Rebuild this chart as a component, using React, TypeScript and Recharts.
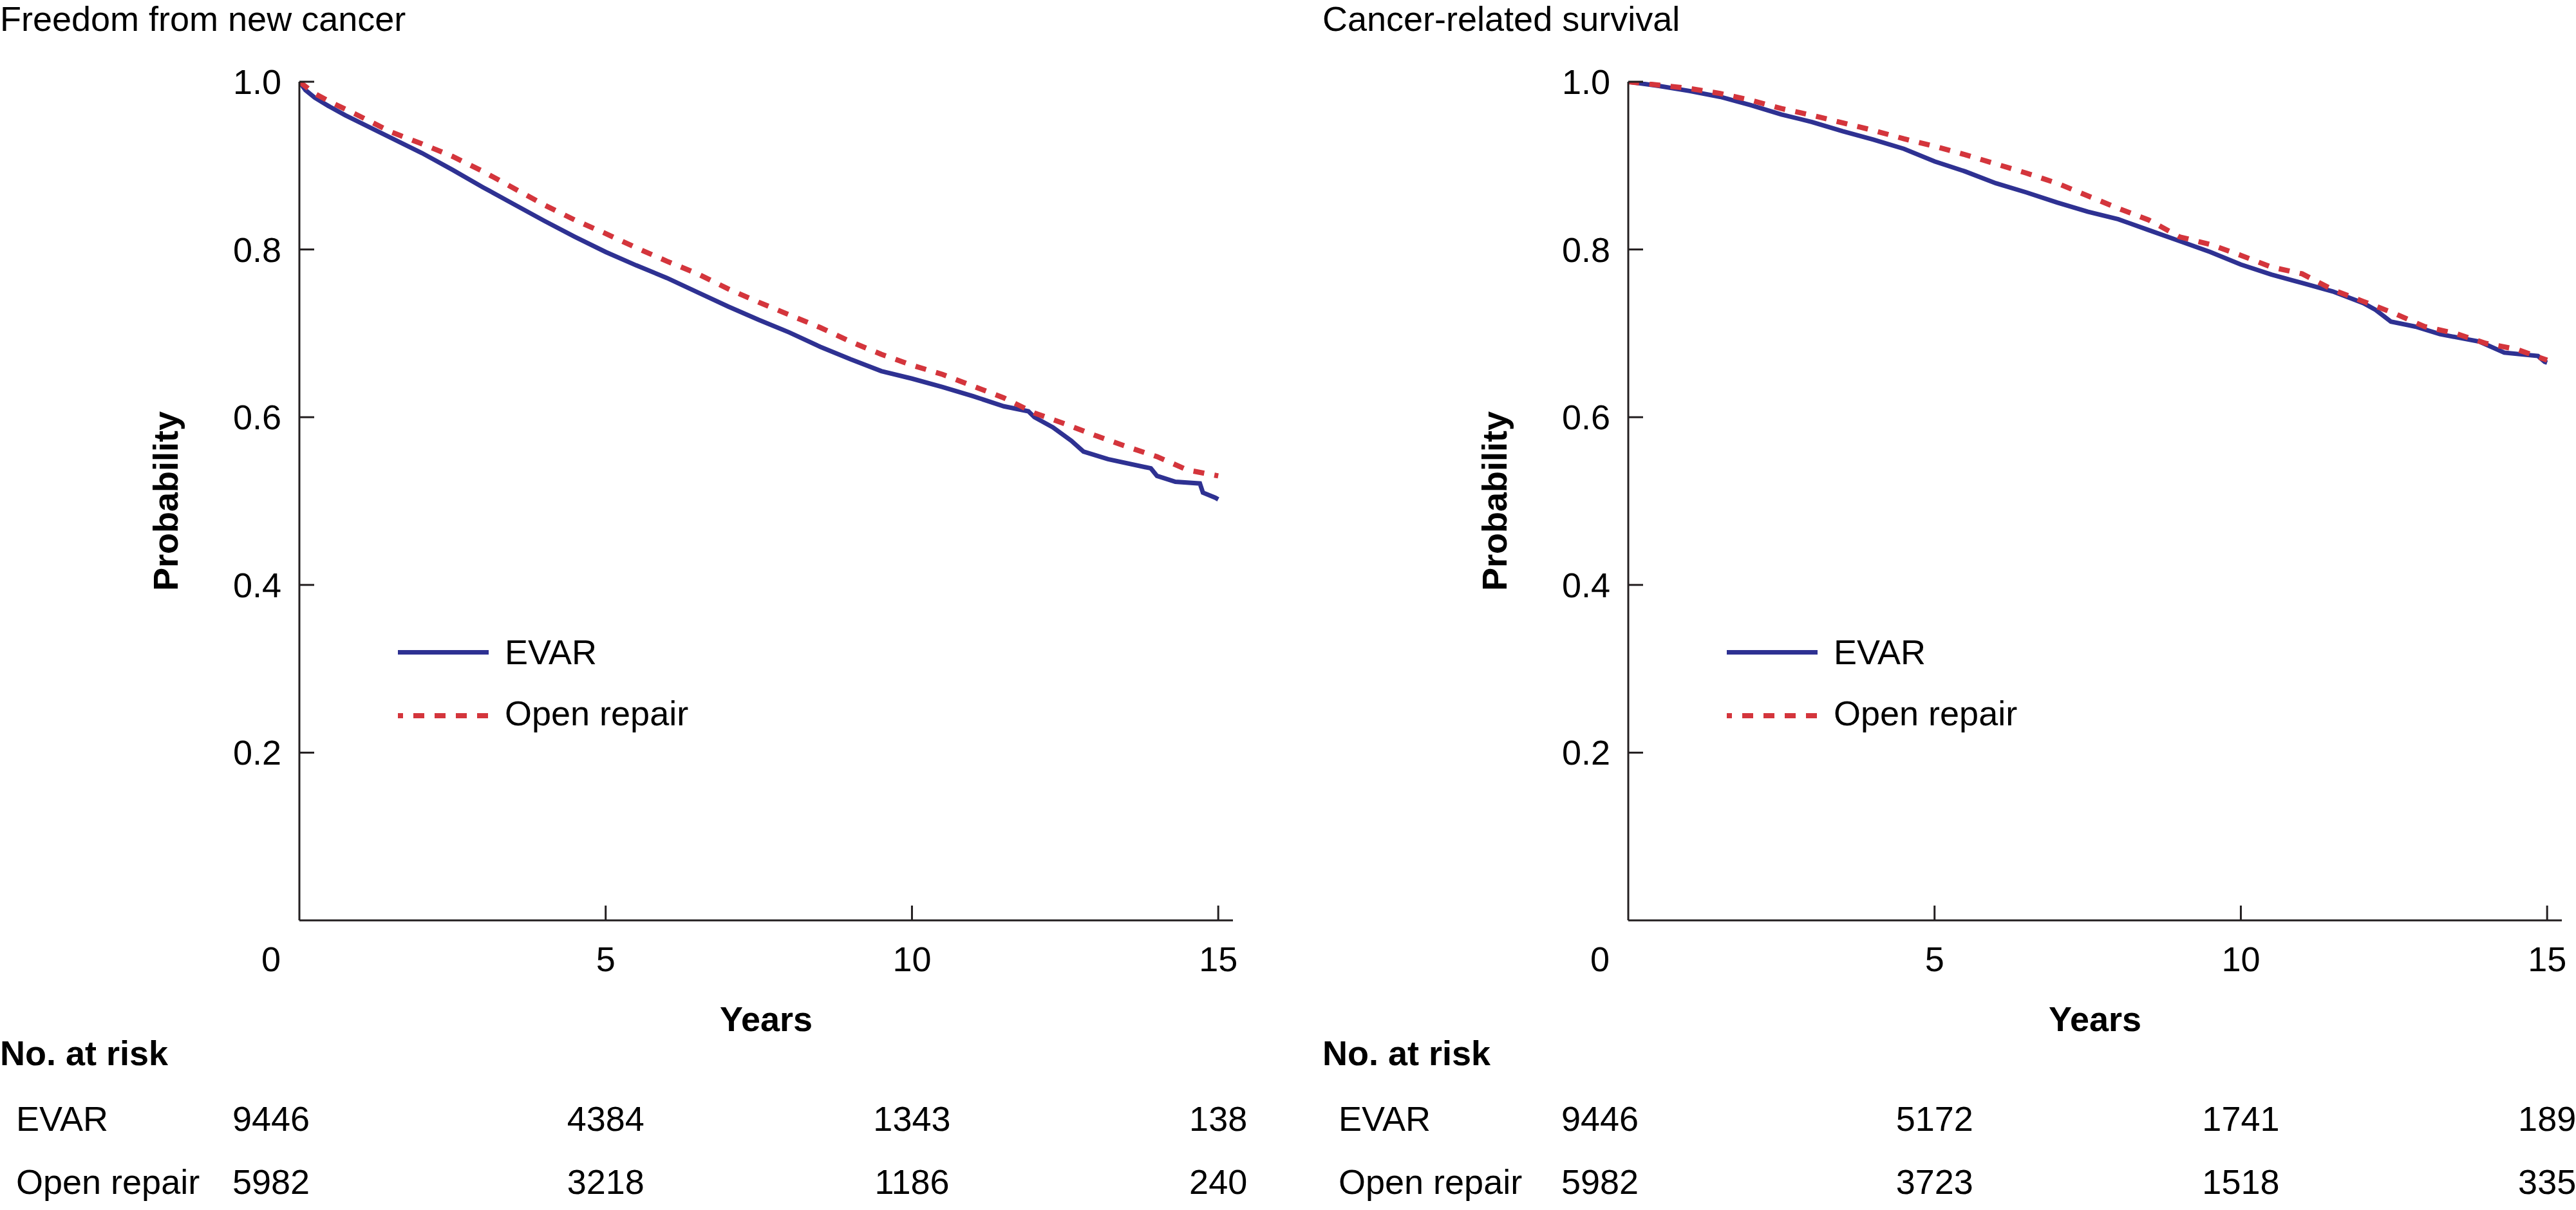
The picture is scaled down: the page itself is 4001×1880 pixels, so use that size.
import React from 'react';
import { LineChart, Line, XAxis, YAxis, Legend, Customized } from 'recharts';

const FONT = "'Liberation Sans', Arial, Helvetica, sans-serif";
const AXIS_COLOR = '#231f20';
const EVAR_COLOR = '#2e3192';
const OPEN_COLOR = '#d4353c';
const CHART_H = 1880;
const PLOT_TOP = 127;
const PLOT_BOTTOM = 1430;

// ticks
const xTicks = [0, 5, 10, 15];
const yTicks = [0.2, 0.4, 0.6, 0.8, 1.0];
const groupNames = ['EVAR', 'Open repair'];

// Panel A: Freedom from new cancer
const newCancerEvarYears = [0, 0.1, 0.25, 0.5, 0.75, 1.0, 1.5, 2.0, 2.5, 3.0, 3.5, 4.0, 4.5, 5.0, 5.5, 6.0, 6.5, 7.0, 7.5, 8.0, 8.5, 9.0, 9.5, 10.0, 10.5, 11.0, 11.5, 11.9, 12.0, 12.3, 12.6, 12.8, 13.2, 13.9, 14.0, 14.3, 14.7, 14.75, 14.95, 15.0];
const newCancerEvarProb = [1, 0.99, 0.981, 0.97, 0.96, 0.951, 0.933, 0.915, 0.895, 0.874, 0.854, 0.834, 0.815, 0.797, 0.781, 0.766, 0.749, 0.732, 0.716, 0.701, 0.684, 0.669, 0.655, 0.646, 0.636, 0.625, 0.613, 0.607, 0.6, 0.588, 0.572, 0.559, 0.55, 0.539, 0.53, 0.523, 0.521, 0.51, 0.504, 0.502];
const newCancerOpenYears = [0, 0.25, 0.5, 0.9, 1.2, 1.5, 2.0, 2.5, 3.0, 3.5, 4.0, 4.5, 5.0, 5.5, 6.0, 6.5, 7.0, 7.5, 8.0, 8.5, 9.0, 9.5, 10.0, 10.5, 11.0, 11.5, 12.0, 12.5, 13.0, 13.5, 14.0, 14.5, 15.0];
const newCancerOpenProb = [1, 0.986, 0.976, 0.962, 0.951, 0.94, 0.926, 0.911, 0.893, 0.873, 0.853, 0.835, 0.819, 0.802, 0.786, 0.771, 0.753, 0.737, 0.722, 0.707, 0.69, 0.675, 0.662, 0.651, 0.637, 0.623, 0.605, 0.592, 0.578, 0.565, 0.553, 0.537, 0.53];
const newCancerRiskEvar = [9446, 4384, 1343, 138];
const newCancerRiskOpen = [5982, 3218, 1186, 240];

// Panel B: Cancer-related survival
const survEvarYears = [0, 0.5, 1, 1.5, 2, 2.5, 3, 3.5, 4, 4.5, 5, 5.5, 6, 6.5, 7, 7.5, 8, 8.5, 9, 9.5, 10, 10.5, 11, 11.5, 12, 12.2, 12.45, 12.85, 13.25, 13.9, 14.3, 14.85, 14.96, 15];
const survEvarProb = [1, 0.995, 0.989, 0.982, 0.972, 0.961, 0.952, 0.941, 0.931, 0.92, 0.905, 0.893, 0.879, 0.868, 0.856, 0.845, 0.836, 0.823, 0.81, 0.797, 0.782, 0.77, 0.76, 0.75, 0.736, 0.728, 0.714, 0.708, 0.699, 0.69, 0.677, 0.673, 0.666, 0.665];
const survOpenYears = [0, 0.5, 1, 1.5, 2, 2.5, 3, 3.5, 4, 4.5, 5, 5.5, 6, 6.5, 7, 7.5, 8, 8.5, 9, 9.5, 10, 10.5, 11, 11.5, 12, 12.5, 13, 13.5, 14, 14.5, 15];
const survOpenProb = [1, 0.996, 0.992, 0.986, 0.978, 0.968, 0.96, 0.951, 0.942, 0.932, 0.923, 0.913, 0.902, 0.891, 0.879, 0.864, 0.849, 0.835, 0.815, 0.806, 0.793, 0.779, 0.771, 0.752, 0.738, 0.724, 0.708, 0.7, 0.688, 0.681, 0.668];
const survRiskEvar = [9446, 5172, 1741, 189];
const survRiskOpen = [5982, 3723, 1518, 335];

const toSeries = (years: number[], prob: number[]) => years.map((t, i) => ({ t, p: prob[i] }));

const textStyle = { fontFamily: FONT, fontSize: 54, fill: '#000' } as const;

const MainXTick = (props: any) => {
  const { x, payload } = props;
  const v = payload.value;
  return (
    <g>
      {v !== 0 && (
        <line x1={x} x2={x} y1={PLOT_BOTTOM} y2={PLOT_BOTTOM - 23} stroke={AXIS_COLOR} strokeWidth={3} />
      )}
      <text x={v === 0 ? x - 44 : x} y={1509} textAnchor="middle" style={textStyle}>
        {v}
      </text>
    </g>
  );
};

const RiskTick = (props: any) => {
  const { x, payload, values, rowLabel, baseline } = props;
  const v = payload.value;
  const idx = xTicks.indexOf(v);
  return (
    <g>
      {v === 0 && (
        <text x={25} y={baseline} textAnchor="start" style={textStyle}>
          {rowLabel}
        </text>
      )}
      <text x={v === 0 ? x - 44 : x} y={baseline} textAnchor="middle" style={textStyle}>
        {idx >= 0 ? values[idx] : ''}
      </text>
    </g>
  );
};

const YTick = (props: any) => {
  const { x, y, payload } = props;
  return (
    <g>
      <line x1={x} x2={x + 23} y1={y} y2={y} stroke={AXIS_COLOR} strokeWidth={3} />
      <text x={x - 28} y={y + 19} textAnchor="end" style={textStyle}>
        {Number(payload.value).toFixed(1)}
      </text>
    </g>
  );
};

const LegendBox = (props: any) => {
  const payload = props.payload || [];
  const colorFor = (i: number) => (payload[i] && payload[i].color) || (i === 0 ? EVAR_COLOR : OPEN_COLOR);
  const nameFor = (i: number) => (payload[i] && payload[i].value) || groupNames[i];
  return (
    <svg width={500} height={200} style={{ display: 'block' }}>
      <line x1={3} x2={144} y1={63.5} y2={63.5} stroke={colorFor(0)} strokeWidth={7} />
      <text x={169} y={82} style={textStyle}>{nameFor(0)}</text>
      <line x1={3} x2={144} y1={162} y2={162} stroke={colorFor(1)} strokeWidth={8} strokeDasharray="17 16" strokeDashoffset={9} />
      <text x={169} y={177} style={textStyle}>{nameFor(1)}</text>
    </svg>
  );
};

type PanelProps = {
  title: string;
  left: number;
  yWidth: number;
  evar: { t: number; p: number }[];
  open: { t: number; p: number }[];
  riskEvar: number[];
  riskOpen: number[];
};

const Panel = ({ title, left, yWidth, evar, open, riskEvar, riskOpen }: PanelProps) => {
  const plotW = 1450;
  const rightMargin = 22;
  const width = yWidth + plotW + rightMargin;
  const axisX = yWidth;
  const Titles = () => (
    <g>
      <text x={0} y={48} style={textStyle}>{title}</text>
      <text
        x={axisX - 189}
        y={(PLOT_TOP + PLOT_BOTTOM) / 2}
        textAnchor="middle"
        transform={`rotate(-90, ${axisX - 189}, ${(PLOT_TOP + PLOT_BOTTOM) / 2})`}
        style={{ ...textStyle, fontWeight: 'bold' }}
      >
        Probability
      </text>
      <text x={axisX + plotW / 2} y={1602} textAnchor="middle" style={{ ...textStyle, fontWeight: 'bold' }}>
        Years
      </text>
      <text x={0} y={1655} style={{ ...textStyle, fontWeight: 'bold' }}>No. at risk</text>
    </g>
  );
  return (
    <div style={{ position: 'absolute', left, top: 0 }}>
      <LineChart width={width} height={CHART_H} margin={{ top: PLOT_TOP, right: rightMargin, bottom: 80, left: 0 }}>
        <XAxis
          xAxisId="main"
          type="number"
          dataKey="t"
          domain={[0, 15.24]}
          allowDataOverflow
          ticks={xTicks}
          interval={0}
          height={170}
          axisLine={{ stroke: AXIS_COLOR, strokeWidth: 3 }}
          tickLine={false}
          tickSize={0}
          tickMargin={0}
          tick={<MainXTick />}
        />
        <XAxis
          xAxisId="riskEvar"
          type="number"
          dataKey="t"
          domain={[0, 15.24]}
          allowDataOverflow
          ticks={xTicks}
          interval={0}
          height={100}
          axisLine={false}
          tickLine={false}
          tickSize={0}
          tickMargin={0}
          tick={<RiskTick values={riskEvar} rowLabel={groupNames[0]} baseline={1757} />}
        />
        <XAxis
          xAxisId="riskOpen"
          type="number"
          dataKey="t"
          domain={[0, 15.24]}
          allowDataOverflow
          ticks={xTicks}
          interval={0}
          height={100}
          axisLine={false}
          tickLine={false}
          tickSize={0}
          tickMargin={0}
          tick={<RiskTick values={riskOpen} rowLabel={groupNames[1]} baseline={1855} />}
        />
        <YAxis
          type="number"
          domain={[0, 1]}
          allowDataOverflow
          ticks={yTicks}
          interval={0}
          width={yWidth}
          axisLine={{ stroke: AXIS_COLOR, strokeWidth: 3 }}
          tickLine={false}
          tickSize={0}
          tickMargin={0}
          tick={<YTick />}
        />
        <Line
          xAxisId="main"
          data={evar}
          dataKey="p"
          name={groupNames[0]}
          type="linear"
          stroke={EVAR_COLOR}
          strokeWidth={7}
          dot={false}
          activeDot={false}
          isAnimationActive={false}
        />
        <Line
          xAxisId="main"
          data={open}
          dataKey="p"
          name={groupNames[1]}
          type="linear"
          stroke={OPEN_COLOR}
          strokeWidth={8}
          strokeDasharray="17 16"
          dot={false}
          activeDot={false}
          isAnimationActive={false}
        />
        <Legend
          layout="vertical"
          align="center"
          verticalAlign="middle"
          wrapperStyle={{ position: 'absolute', left: axisX + 150, top: 950, width: 500, height: 200 }}
          content={(p: any) => <LegendBox payload={p.payload} />}
        />
        <Customized component={<Titles />} />
      </LineChart>
    </div>
  );
}
;

export default function App() {
  return (
    <div style={{ position: 'absolute', left: 0, top: 0, width: 4001, height: 1880, background: '#fff', overflow: 'hidden' }}>
      <Panel
        title="Freedom from new cancer"
        left={0}
        yWidth={465}
        evar={toSeries(newCancerEvarYears, newCancerEvarProb)}
        open={toSeries(newCancerOpenYears, newCancerOpenProb)}
        riskEvar={newCancerRiskEvar}
        riskOpen={newCancerRiskOpen}
      />
      <Panel
        title="Cancer-related survival"
        left={2054}
        yWidth={475}
        evar={toSeries(survEvarYears, survEvarProb)}
        open={toSeries(survOpenYears, survOpenProb)}
        riskEvar={survRiskEvar}
        riskOpen={survRiskOpen}
      />
    </div>
  );
}
